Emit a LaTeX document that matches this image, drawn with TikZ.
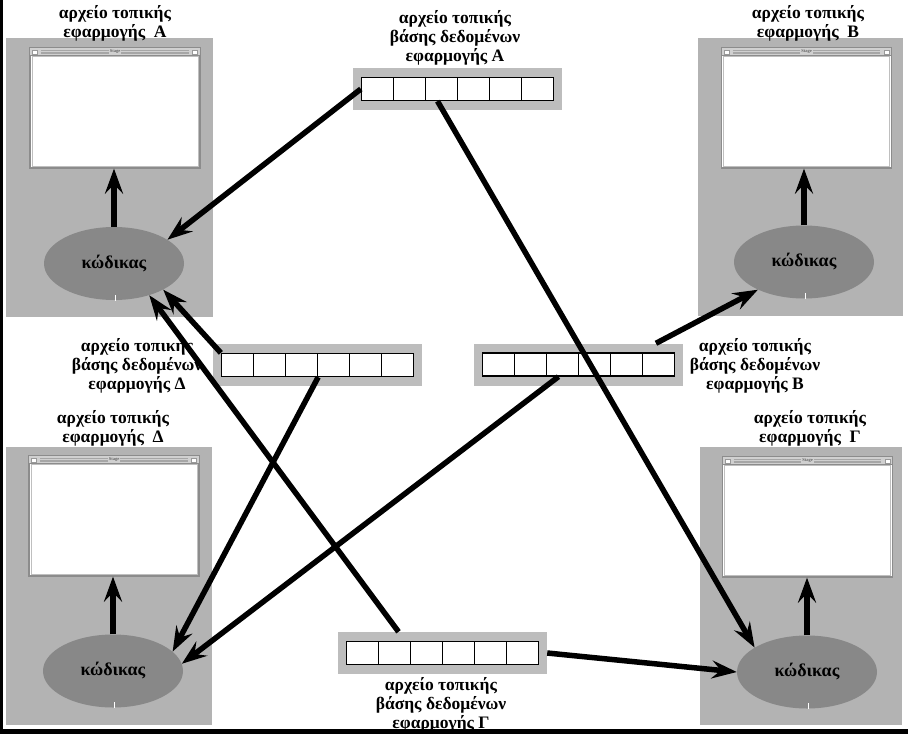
\documentclass[tikz,border=0pt]{standalone}
\usepackage{fontspec}
\setmainfont{Liberation Serif}
\usetikzlibrary{arrows.meta,shapes.geometric,calc}
\definecolor{panelgray}{HTML}{B3B3B3}
\definecolor{codegray}{HTML}{888888}
\definecolor{dbgray}{HTML}{BDBDBD}
\definecolor{wingray}{HTML}{8C8C8C}
\definecolor{barGray}{HTML}{D0D0D0}

\newcommand\stagewin[3]{%
  \node[stagewin] (win#1) at (#2,#3) {};
  \fill[barGray] ($(win#1.north west)+(1pt,-1pt)$) rectangle ($(win#1.north east)+(-1pt,-8pt)$);
  \draw[wingray, line width=0.8pt] ($(win#1.north west)+(1pt,-8pt)$) -- ($(win#1.north east)+(-1pt,-8pt)$);
  \foreach \yy in {3,4.5,6} \draw[gray!70, line width=0.4pt] ($(win#1.north west)+(12pt,-\yy pt)$) -- ($(win#1.north east)+(-12pt,-\yy pt)$);
  \draw[gray!80, line width=0.5pt, fill=white] ($(win#1.north west)+(3pt,-2.5pt)$) rectangle ++(5pt,-4pt);
  \draw[gray!80, line width=0.5pt, fill=white] ($(win#1.north east)+(-8pt,-2.5pt)$) rectangle ++(5pt,-4pt);
  \node[fill=barGray, inner sep=1pt, font=\fontsize{4.5}{5}\selectfont\bfseries, text=gray!80!black] (title#1) at ($(win#1.north)+(0,-4.5pt)$) {Stage};
  \draw[gray!50, line width=0.6pt] ($(win#1.south west)+(2.5pt,2.5pt)$) rectangle ($(win#1.north east)+(-2.5pt,-9pt)$);
}
\newcommand\dbbox[3]{%
  \node[dbstrip] (db#1) at (#2,#3) {};
  \foreach \i in {1,...,6} \node[dbcell] (cell#1\i) at ({#2-80+32*(\i-1)},#3) {};
}

\begin{document}
\begin{tikzpicture}[x=1pt,y=-1pt,
  panel/.style={rectangle, fill=panelgray, draw=none, inner sep=0pt},
  stagewin/.style={rectangle, fill=white, draw=wingray, line width=1.2pt, minimum width=170pt, minimum height=120pt, inner sep=0pt},
  code/.style={ellipse, fill=codegray, draw=none, minimum width=140pt, minimum height=73pt, inner sep=0pt, font=\fontsize{18}{20}\selectfont\bfseries},
  dbstrip/.style={rectangle, fill=dbgray, draw=none, minimum width=209pt, minimum height=42pt, inner sep=0pt},
  dbcell/.style={rectangle, fill=white, draw=black, line width=1.3pt, minimum width=32pt, minimum height=23pt, inner sep=0pt},
  lbl/.style={align=center, font=\fontsize{17.5}{19}\selectfont\bfseries, inner sep=0pt},
  conn/.style={line width=5.5pt, -{Stealth[length=25pt,width=18pt,inset=9pt]}},
  notch/.style={white, line width=1pt}
]
\useasboundingbox (0,0) rectangle (908,736);
\fill[white] (0,0) rectangle (908,736);
\fill[black] (0,0) rectangle (3,734);
\fill[black] (0,729) rectangle (908,734);

% panels
\node[panel, minimum width=207pt, minimum height=279pt] (panA) at (109.5,177.5) {};
\node[panel, minimum width=205pt, minimum height=278pt] (panB) at (800.5,177) {};
\node[panel, minimum width=206pt, minimum height=278pt] (panD) at (109,586) {};
\node[panel, minimum width=202pt, minimum height=278pt] (panG) at (801,586) {};

% windows
\stagewin{A}{115}{108}
\stagewin{B}{806.5}{108}
\stagewin{D}{114}{516}
\stagewin{G}{807.5}{517}

% code ellipses
\node[code] (codeA) at (114,263.5) {κώδικας};
\node[code] (codeB) at (804,262) {κώδικας};
\node[code] (codeD) at (113,671) {κώδικας};
\node[code] (codeG) at (807,672) {κώδικας};
\foreach \c in {A,B,D,G} \draw[notch] ($(code\c.south)+(1pt,-0.5pt)$) -- ++(0,6pt);

% panel labels
\node[lbl] (labA) at (115,23) {αρχείο τοπικής\\ εφαρμογής~~Α};
\node[lbl] (labB) at (808,23) {αρχείο τοπικής\\ εφαρμογής~~Β};
\node[lbl] (labD) at (113,428) {αρχείο τοπικής\\ εφαρμογής~~Δ};
\node[lbl] (labG) at (810,428) {αρχείο τοπικής\\ εφαρμογής~~Γ};

% databases
\dbbox{A}{457.5}{89}
\dbbox{D}{317.5}{365}
\dbbox{B}{578.5}{364.5}
\dbbox{G}{442.5}{653}

\node[lbl] (ldbA) at (455,38) {αρχείο τοπικής\\βάσης δεδομένων\\εφαρμογής Α};
\node[lbl] (ldbD) at (137,366) {αρχείο τοπικής\\βάσης δεδομένων\\εφαρμογής Δ};
\node[lbl] (ldbB) at (755,366) {αρχείο τοπικής\\βάσης δεδομένων\\εφαρμογής Β};
\node[lbl] (ldbG) at (441,705) {αρχείο τοπικής\\βάσης δεδομένων\\εφαρμογής Γ};

% internal arrows
\foreach \c in {A,B,D,G} \draw[conn] (code\c.north) -- (code\c.north |- win\c.south);

% connectors
\draw[conn] (cellA1.west) -- (codeA.24);
\draw[conn] ($(cellA3.south)+(-4pt,0)$) -- (codeG.155);
\draw[conn] (cellD1.north west) -- (codeA.-28);
\draw[conn] ($(dbG.north west)!0.29!(dbG.north east)$) -- (codeA.-42);
\draw[conn] (cellD3.south east) -- (codeD.18);
\draw[conn] ($(cellB3.south)+(-4pt,0)$) -- (codeD.6);
\draw[conn] ($(dbB.north west)!0.87!(dbB.north east)$) -- (codeB.211);
\draw[conn] (dbG.east) -- (codeG.180);
\end{tikzpicture}
\end{document}
